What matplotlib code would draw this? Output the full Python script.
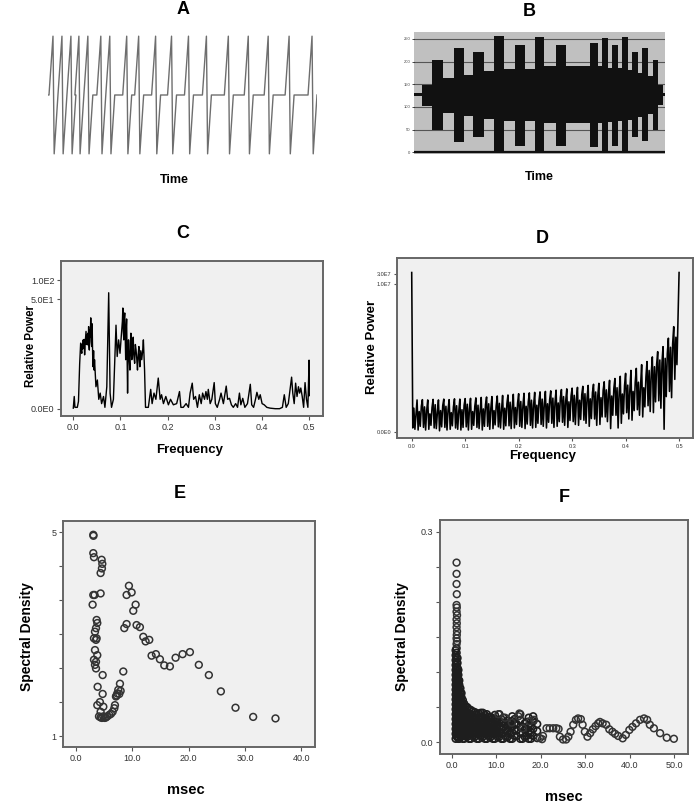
"""Six panel figure: raw traces (A, B), periodograms (C, D) and spectral density vs period (E, F)."""

import numpy as np
import matplotlib
matplotlib.use('Agg')
import matplotlib.pyplot as plt
from matplotlib.ticker import NullLocator

plt.rcParams['font.family'] = ['Liberation Sans', 'DejaVu Sans']

# A: spike times of the raw trace (time units)
a_spike_times = [5, 14, 23, 31, 40, 53, 62, 79, 91, 108, 124, 141, 159, 181, 201, 221, 242, 265]

# B: step edges and the upper / lower envelope of the trace
b_edges = [0, 8, 18, 29, 40, 50, 59, 70, 80, 90, 101, 111, 121, 130, 142, 152,
           176, 183, 187, 193, 197, 203, 207, 213, 217, 223, 227, 233, 238, 243, 248, 250]
b_upper = [130, 149, 204, 164, 229, 171, 221, 179, 256, 184, 237, 184, 254, 190, 237, 190,
           241, 190, 252, 186, 237, 186, 254, 182, 220, 175, 229, 168, 204, 149, 130]
b_lower = [124, 103, 50, 87, 23, 79, 33, 74, 0, 68, 15, 68, 0, 65, 15, 65,
           12, 65, 0, 67, 15, 68, 0, 72, 33, 77, 24, 85, 50, 104, 124]
b_yticks = [0, 50, 100, 150, 200, 250]

# C: periodogram of A
c_freq = [0.0, 0.002, 0.0035, 0.0085, 0.011, 0.0135, 0.0156, 0.017, 0.018, 0.019,
          0.020, 0.021, 0.022, 0.023, 0.024, 0.025, 0.026, 0.027, 0.028, 0.029,
          0.030, 0.031, 0.032, 0.0325, 0.033, 0.034, 0.035, 0.036, 0.037, 0.038,
          0.039, 0.040, 0.041, 0.042, 0.043, 0.044, 0.045, 0.048, 0.051, 0.054,
          0.057, 0.060, 0.064, 0.067, 0.071, 0.075, 0.078, 0.081, 0.085, 0.088,
          0.0905, 0.093, 0.096, 0.099, 0.102, 0.104, 0.105, 0.106, 0.107, 0.108,
          0.109, 0.110, 0.111, 0.112, 0.113, 0.114, 0.115, 0.116, 0.117, 0.118,
          0.120, 0.121, 0.122, 0.123, 0.124, 0.1255, 0.127, 0.128, 0.130, 0.1315,
          0.133, 0.1345, 0.136, 0.1375, 0.139, 0.140, 0.141, 0.143, 0.145, 0.147,
          0.1485, 0.151, 0.153,
          0.159, 0.164, 0.167, 0.171, 0.175, 0.180, 0.184, 0.187, 0.191, 0.196,
          0.2015, 0.206, 0.212, 0.219, 0.225, 0.228, 0.233, 0.239, 0.244, 0.2475,
          0.252, 0.255, 0.259, 0.263, 0.267, 0.271, 0.274, 0.278, 0.281, 0.284,
          0.286, 0.290, 0.2935, 0.2985, 0.301, 0.305, 0.310, 0.313, 0.318, 0.321,
          0.324, 0.327, 0.331, 0.335, 0.339, 0.344, 0.348, 0.352, 0.355, 0.359,
          0.3635, 0.369, 0.375, 0.378, 0.382, 0.386, 0.389, 0.393, 0.396, 0.400,
          0.4045, 0.410, 0.417, 0.428, 0.437, 0.443, 0.447, 0.451, 0.4555, 0.460,
          0.4625, 0.465, 0.468, 0.471, 0.474, 0.477, 0.4795, 0.482, 0.485, 0.488,
          0.491, 0.494, 0.497, 0.4995, 0.500]
c_power = [0.02, 0.55, 0.05, 0.05, 0.3, 4.0, 9.5, 7.0, 6.3, 9.0,
           7.5, 10.8, 8.0, 11, 5.9, 9.0, 12, 15, 9.0, 13,
           8.9, 14, 10, 18, 9.0, 7.2, 16, 12, 25, 10,
           8.3, 20, 6.0, 3.5, 7.0, 3.0, 4.8, 1.2, 1.8, 0.4,
           0.75, 0.2, 0.55, 0.05, 1.2, 63, 0.75, 0.05, 0.4, 4.8,
           19, 5.5, 10.8, 6.3, 14, 22, 36, 15, 10.8, 25,
           30, 12, 4.8, 16, 24, 6, 0.75, 5, 10.8, 6,
           3.0, 9, 14, 7, 4.8, 9, 12, 6, 4.1, 9,
           7.2, 5, 3.0, 6, 8.3, 5, 3.5, 7, 4.8, 7,
           10.8, 3.0, 0.05,
           0.05, 1.0, 0.2, 0.75, 0.4, 2.0, 0.4, 0.65, 0.2, 0.55,
           0.15, 0.4, 0.15, 0.2, 0.85, 0.05, 0.05, 0.2, 0.05, 0.75,
           1.5, 0.4, 0.55, 0.05, 0.65, 0.2, 0.75, 0.4, 0.85, 0.4,
           1.0, 0.2, 0.4, 1.55, 0.2, 0.05, 0.4, 0.75, 0.2, 0.65,
           1.25, 0.4, 0.45, 0.15, 0.05, 0.2, 0.05, 0.75, 0.15, 0.45,
           0.05, 0.2, 1.4, 0.15, 0.05, 0.4, 0.8, 0.4, 0.65, 0.2,
           0.15, 0.05, 0.02, 0.0, 0.0, 0.05, 0.65, 0.05, 0.2, 1.2,
           2.1, 0.75, 0.2, 1.5, 0.55, 1.2, 0.75, 1.1, 0.55, 0.05,
           1.55, 0.4, 0.05, 4.7, 0.6]

# D: periodogram of B, five readings per tooth (teeth every 0.01)
d_top = [35000000, 31, 32, 31, 33, 31, 34, 32, 35, 34,
         36, 37, 39, 41, 43, 45, 48, 51, 54, 58,
         62, 65, 68, 72, 76, 80, 85, 92, 98, 106,
         115, 125, 140, 155, 175, 195, 230, 270, 330, 420,
         580, 800, 1000, 1500, 2100, 3500, 6200, 10700, 27000, 95000]
d_low = [0.5, 0.2, 0.6, 0.3, 0.5, 0.1, 0.6, 0.3, 0.5, 0.2,
         0.7, 0.3, 0.6, 0.2, 0.8, 0.4, 0.7, 0.3, 0.9, 0.5,
         0.8, 0.4, 1.0, 0.6, 1.2, 0.5, 1.5, 0.8, 1.8, 0.6,
         2.0, 1.0, 2.5, 0.8, 3.0, 1.2, 4.0, 0.4, 5.0, 1.5,
         7.0, 2.5, 10, 4, 16, 7, 28, 0.3, 80, 300]
d_mid = [12, 8, 14, 6, 18, 9, 15, 7, 16, 10,
         19, 8, 17, 11, 20, 9, 21, 12, 24, 13,
         26, 15, 30, 17, 34, 20, 38, 22, 45, 25,
         52, 30, 62, 35, 75, 40, 95, 48, 120, 60,
         160, 80, 220, 120, 800, 1200, 2500, 3000, 10000, 30000]
d_low2 = [0.3, 0.8, 0.2, 1.0, 0.4, 0.7, 0.2, 0.9, 0.3, 0.6,
          0.2, 1.0, 0.4, 0.8, 0.3, 1.1, 0.5, 0.9, 0.4, 1.2,
          0.6, 1.3, 0.5, 1.5, 0.8, 1.8, 0.6, 2.0, 1.0, 2.4,
          1.2, 2.8, 1.5, 3.2, 1.0, 4.0, 2.0, 5.0, 0.5, 6.0,
          3.0, 9.0, 5.0, 14, 8, 25, 12, 45, 40, 1500]
d_mid2 = [6, 15, 9, 13, 7, 16, 10, 14, 8, 17,
          11, 15, 9, 18, 12, 16, 10, 20, 14, 22,
          16, 25, 18, 28, 20, 32, 24, 40, 28, 48,
          32, 55, 40, 70, 50, 90, 60, 110, 75, 150,
          100, 220, 150, 380, 600, 1500, 1800, 5000, 15000, 300000]
d_end_peak = 35000000

# E: spectral density vs period
e_msec = [3.07, 3.10, 3.07, 3.19, 4.55, 4.67, 4.60, 4.37, 3.07, 3.30,
          4.37, 2.95, 3.66, 3.78, 3.55, 3.37, 3.19, 3.66, 3.55, 3.37,
          3.78, 3.19, 3.55, 3.37, 3.55, 4.73, 3.84, 4.73, 4.25, 3.78,
          4.85, 4.37, 4.08, 4.37, 4.85, 5.32, 5.55, 5.91, 6.20, 6.50,
          6.80, 6.91, 7.09, 7.33, 7.50, 7.80, 7.92, 7.68, 7.21, 8.39,
          5.10, 4.60, 8.57, 8.98, 9.39, 8.98, 9.87, 10.58, 10.16, 10.75,
          11.34, 11.94, 12.35, 13.0, 13.41, 14.18, 14.89, 15.66, 16.66, 17.67,
          18.91, 20.21, 21.79, 23.57, 25.70, 28.30, 31.43, 35.39]
e_density = [4.95, 4.93, 4.59, 4.51, 4.46, 4.38, 4.29, 4.20, 3.77, 3.77,
             3.80, 3.58, 3.28, 3.22, 3.12, 3.05, 2.92, 2.92, 2.89, 2.69,
             2.59, 2.50, 2.46, 2.40, 2.33, 2.20, 1.97, 1.83, 1.67, 1.61,
             1.58, 1.48, 1.39, 1.37, 1.39, 1.37, 1.39, 1.42, 1.44, 1.48,
             1.55, 1.61, 1.78, 1.84, 1.91, 2.03, 1.89, 1.83, 1.80, 2.27,
             1.36, 1.36, 3.12, 3.20, 3.95, 3.77, 3.82, 3.58, 3.46, 3.18,
             3.14, 2.95, 2.86, 2.89, 2.58, 2.61, 2.51, 2.39, 2.37, 2.54,
             2.61, 2.65, 2.40, 2.20, 1.88, 1.56, 1.38, 1.35]

# F: spectral density vs period, sparse points
f_msec = [1.1, 1.1, 1.1, 1.15, 1.1, 1.15, 1.1, 1.2, 1.1, 1.15, 1.1, 1.2, 1.15, 1.1, 1.2, 1.1,
          10.5, 12.0, 15.0, 15.2, 17.5, 18.5, 13.5, 16.0,
          19.8, 20.5, 20.3, 21.3, 22.0, 22.8, 23.5, 24.0, 24.3, 25.0, 25.7, 26.2, 26.7, 27.3,
          27.9, 28.4, 29.0, 29.4, 29.9, 30.5, 31.1, 31.7, 32.3, 32.9, 33.3, 33.9, 34.7, 35.4,
          36.1, 36.7, 37.4, 38.4, 39.1, 39.9, 40.6, 41.4, 42.3, 43.2, 43.9, 44.5, 45.4, 46.8,
          48.3, 49.9]
f_density = [0.256, 0.240, 0.2255, 0.211, 0.1956, 0.192, 0.186, 0.181, 0.175, 0.1695,
             0.164, 0.158, 0.153, 0.148, 0.144, 0.140,
             0.040, 0.035, 0.037, 0.041, 0.030, 0.032, 0.028, 0.020,
             0.006, 0.009, 0.0045, 0.020, 0.020, 0.020, 0.020, 0.019, 0.008, 0.004, 0.004, 0.008,
             0.015, 0.025, 0.032, 0.034, 0.033, 0.025, 0.015, 0.008, 0.013, 0.0185, 0.023, 0.027,
             0.029, 0.027, 0.025, 0.0185, 0.015, 0.012, 0.009, 0.0057, 0.0105, 0.0176, 0.022,
             0.027, 0.032, 0.034, 0.032, 0.025, 0.020, 0.013, 0.0066, 0.005]

# F: dense cloud, one list of densities per period column
f_cloud_msec = [0.9, 1.3, 1.7, 2.2, 2.8, 3.5, 4.3, 5.2, 6.1, 7.0, 7.9, 8.8,
                9.7, 10.7, 11.6, 12.6, 13.6, 14.6, 15.4, 16.4, 17.3, 18.3, 19.2,
                1.1, 1.5, 1.95, 2.5, 3.15, 3.9, 4.75, 5.65, 6.55, 7.45, 8.35, 9.25,
                10.2, 11.15, 12.1, 13.1, 14.1, 15.9, 16.85, 17.8]
f_cloud_density = [
    [0.005, 0.012, 0.019, 0.026, 0.033, 0.040, 0.047, 0.054, 0.061, 0.068, 0.075, 0.082,
     0.089, 0.096, 0.103, 0.110, 0.117, 0.124, 0.131],
    [0.008, 0.015, 0.022, 0.029, 0.036, 0.043, 0.050, 0.057, 0.064, 0.071, 0.078, 0.085,
     0.092, 0.099, 0.106, 0.113, 0.120],
    [0.005, 0.012, 0.019, 0.026, 0.033, 0.040, 0.047, 0.054, 0.061, 0.068, 0.075, 0.082, 0.088],
    [0.008, 0.015, 0.022, 0.029, 0.036, 0.043, 0.050, 0.057, 0.064, 0.070],
    [0.005, 0.012, 0.019, 0.026, 0.033, 0.040, 0.047, 0.055],
    [0.008, 0.015, 0.022, 0.029, 0.036, 0.043, 0.050],
    [0.005, 0.012, 0.019, 0.026, 0.033, 0.040, 0.046],
    [0.008, 0.015, 0.022, 0.029, 0.036, 0.043],
    [0.005, 0.012, 0.019, 0.026, 0.033, 0.041],
    [0.008, 0.015, 0.022, 0.029, 0.036, 0.042],
    [0.005, 0.012, 0.019, 0.026, 0.033, 0.040],
    [0.008, 0.015, 0.022, 0.029, 0.036],
    [0.005, 0.012, 0.019, 0.026, 0.033, 0.039],
    [0.008, 0.015, 0.022, 0.030, 0.040],
    [0.005, 0.013, 0.021, 0.028, 0.035],
    [0.008, 0.016, 0.024, 0.031],
    [0.005, 0.014, 0.022, 0.030, 0.037],
    [0.009, 0.017, 0.026],
    [0.005, 0.013, 0.022, 0.032, 0.040],
    [0.008, 0.018, 0.027],
    [0.005, 0.014, 0.024, 0.035],
    [0.009, 0.019, 0.030, 0.037],
    [0.006, 0.016, 0.026],
    [0.0085, 0.0155, 0.0225, 0.0295, 0.0365, 0.0435, 0.0505, 0.0575, 0.0645, 0.0715,
     0.0785, 0.0855, 0.0925, 0.0995, 0.1065, 0.1135, 0.1205, 0.1275, 0.134],
    [0.005, 0.012, 0.019, 0.026, 0.033, 0.040, 0.047, 0.054, 0.061, 0.068, 0.075, 0.082,
     0.089, 0.096, 0.103],
    [0.0085, 0.0155, 0.0225, 0.0295, 0.0365, 0.0435, 0.0505, 0.0575, 0.0645, 0.0715, 0.077],
    [0.005, 0.012, 0.019, 0.026, 0.033, 0.040, 0.047, 0.054, 0.060],
    [0.0085, 0.0155, 0.0225, 0.0295, 0.0365, 0.0435, 0.051],
    [0.005, 0.012, 0.019, 0.026, 0.033, 0.040, 0.047],
    [0.0085, 0.0155, 0.0225, 0.0295, 0.0365, 0.044],
    [0.005, 0.012, 0.019, 0.026, 0.033, 0.040],
    [0.0085, 0.0155, 0.0225, 0.0295, 0.0365, 0.042],
    [0.005, 0.012, 0.019, 0.026, 0.033, 0.039],
    [0.0085, 0.0155, 0.0225, 0.0295, 0.036],
    [0.005, 0.012, 0.019, 0.026, 0.034],
    [0.0085, 0.0155, 0.0225, 0.0295],
    [0.005, 0.012, 0.019, 0.027, 0.033],
    [0.0085, 0.017, 0.025],
    [0.005, 0.012, 0.020, 0.028],
    [0.009, 0.018, 0.026, 0.033],
    [0.005, 0.013, 0.022],
    [0.009, 0.019, 0.029],
    [0.005, 0.014, 0.024],
]

W, H = 699, 805
FRAME = '#666666'
PANEL_BG = '#f0f0f0'


def log1p_scale(ax):
    """Relative power axis: log10(1 + y), as in the SPSS output"""
    fwd = lambda y: np.log10(np.clip(1 + np.asarray(y, dtype=float), 1e-12, None))
    inv = lambda y: 10 ** np.asarray(y, dtype=float) - 1
    ax.set_yscale('function', functions=(fwd, inv))
    ax.yaxis.set_minor_locator(NullLocator())


def box_style(ax, fs):
    """Gray framed panel"""
    ax.set_facecolor(PANEL_BG)
    for s in ax.spines.values():
        s.set_color(FRAME)
        s.set_linewidth(1.4)
    ax.tick_params(direction='out', length=3, width=0.8, color='#555555',
                   labelsize=fs, labelcolor='#333333', pad=2)


def add_axes(x0, y0, x1, y1):
    """Axes from pixel box (left, top, right, bottom)"""
    return plt.gcf().add_axes([x0 / W, 1 - y1 / H, (x1 - x0) / W, (y1 - y0) / H])


def label(x, y, s, size, rot=0):
    plt.gcf().text(x / W, 1 - y / H, s, ha='center', va='center', fontsize=size,
                   fontweight='bold', rotation=rot)


def main():
    fig = plt.figure(figsize=(W / 100, H / 100), dpi=100)
    fig.patch.set_facecolor('white')

    # ---- A: raw trace
    ax = add_axes(48, 35, 317, 155)
    t, amp = [0], [0]
    for s in a_spike_times:
        t += [s - 4, s, s + 1.2, s + 5]
        amp += [0, 1, -1, 0]
    t += [270]
    amp += [0]
    ax.plot(t, amp, color='#6e6e6e', lw=1.0)
    ax.set_xlim(0, 270)
    ax.set_ylim(-1.02, 1.02)
    ax.axis('off')

    # ---- B: trace with amplitude steps
    ax = add_axes(414, 32, 665, 154)
    ax.set_facecolor('#c0c0c0')
    ax.stairs(b_upper, b_edges, baseline=b_lower, fill=True, color='#111111', zorder=2)
    ax.set_yticks(b_yticks)
    ax.set_yticklabels([str(v) for v in b_yticks])
    ax.yaxis.grid(True, color='#555555', lw=0.8)
    ax.set_axisbelow(True)
    ax.axhline(0, color='#111111', lw=1.6, zorder=3)
    ax.set_xticks([])
    ax.tick_params(axis='y', length=1.5, width=0.5, labelsize=3, labelcolor='#444444', pad=1)
    for s in ax.spines.values():
        s.set_visible(False)
    ax.set_xlim(0, 250.3)
    ax.set_ylim(-3.7, 265)

    # ---- C: periodogram of A
    ax = add_axes(61.3, 260.7, 322.8, 416.5)
    box_style(ax, 6.5)
    ax.plot(c_freq, c_power, color='black', lw=1.0)
    log1p_scale(ax)
    ax.set_yticks([0, 50, 100])
    ax.set_yticklabels(['0.0E0', '5.0E1', '1.0E2'])
    ax.set_xticks([0.0, 0.1, 0.2, 0.3, 0.4, 0.5])
    ax.set_xticklabels(['0.0', '0.1', '0.2', '0.3', '0.4', '0.5'])
    ax.set_xlim(-0.0254, 0.5286)
    ax.set_ylim(-0.244, 201)

    # ---- D: periodogram of B
    ax = add_axes(397, 258.3, 693.3, 438.3)
    box_style(ax, 4)
    d_power = np.append(np.column_stack([d_top, d_low, d_mid, d_low2, d_mid2]).ravel(), d_end_peak)
    d_freq = np.linspace(0, 0.5, len(d_power))
    ax.plot(d_freq, d_power, color='black', lw=1.15)
    log1p_scale(ax)
    ax.set_yticks([0, 1e7, 3e7])
    ax.set_yticklabels(['0.0E0', '1.0E7', '3.0E7'])
    ax.set_xticks([0.0, 0.1, 0.2, 0.3, 0.4, 0.5])
    ax.set_xticklabels(['0.0', '0.1', '0.2', '0.3', '0.4', '0.5'])
    ax.tick_params(length=2)
    ax.set_xlim(-0.0275, 0.5266)
    ax.set_ylim(-0.514, 1.65e8)

    # ---- E: spectral density of A
    ax = add_axes(63.3, 521, 315, 747.3)
    box_style(ax, 6.5)
    ax.scatter(e_msec, e_density, s=24, facecolors='none', edgecolors='#333333', linewidths=1.1)
    ax.set_yticks([1, 1.667, 2.333, 3, 3.667, 4.333, 5])
    ax.set_yticklabels(['1', '', '', '', '', '', '5'])
    ax.set_xticks([0, 10, 20, 30, 40])
    ax.set_xticklabels(['0.0', '10.0', '20.0', '30.0', '40.0'])
    ax.set_xlim(-2.25, 42.4)
    ax.set_ylim(0.784, 5.22)

    # ---- F: spectral density of B
    ax = add_axes(440, 520, 687.7, 754.3)
    box_style(ax, 6.5)
    cloud_x = [x for x, col in zip(f_cloud_msec, f_cloud_density) for _ in col]
    cloud_y = [y for col in f_cloud_density for y in col]
    ax.scatter(cloud_x, cloud_y, s=24, facecolors='none', edgecolors='#1e1e1e', linewidths=1.2)
    ax.scatter(f_msec, f_density, s=24, facecolors='none', edgecolors='#333333', linewidths=1.1)
    ax.set_yticks([0, 0.05, 0.1, 0.15, 0.2, 0.25, 0.3])
    ax.set_yticklabels(['0.0', '', '', '', '', '', '0.3'])
    ax.set_xticks([0, 10, 20, 30, 40, 50])
    ax.set_xticklabels(['0.0', '10.0', '20.0', '30.0', '40.0', '50.0'])
    ax.set_xlim(-2.62, 53.0)
    ax.set_ylim(-0.0171, 0.3167)

    # ---- titles and axis labels
    for x, y, s in [(183, 10, 'A'), (529, 12, 'B'), (183, 234, 'C'), (542, 238, 'D'),
                    (180, 493, 'E'), (564, 497, 'F')]:
        label(x, y, s, 13)
    label(174, 180, 'Time', 9)
    label(539, 177, 'Time', 9)
    label(190, 450, 'Frequency', 9.5)
    label(543, 456, 'Frequency', 9.5)
    label(31, 346, 'Relative Power', 8.3, rot=90)
    label(372, 347, 'Relative Power', 9.5, rot=90)
    label(27, 637, 'Spectral Density', 10, rot=90)
    label(402, 637, 'Spectral Density', 10, rot=90)
    label(186, 790, 'msec', 10.5)
    label(564, 797, 'msec', 10.5)

    fig.savefig('out.png', dpi=100)


main()
